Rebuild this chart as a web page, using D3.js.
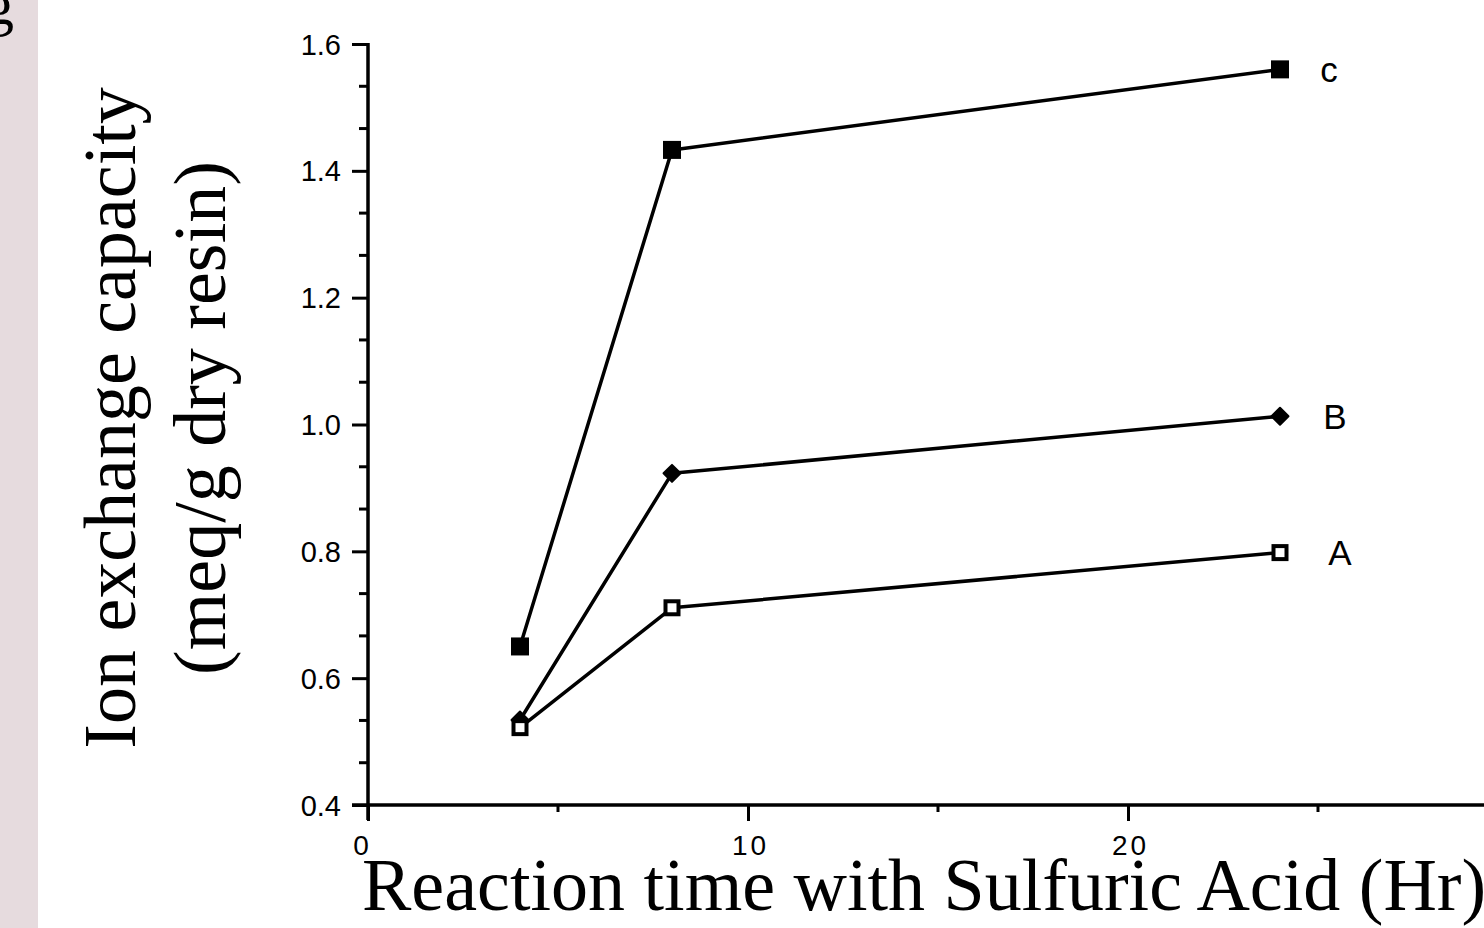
<!DOCTYPE html>
<html><head><meta charset="utf-8">
<script src="https://cdn.jsdelivr.net/npm/d3@7"></script>
<style>html,body{margin:0;padding:0;background:#fff;overflow:hidden}</style>
</head><body>
<svg id="c" width="1484" height="928"></svg>
<script>
const timesHr = [4, 8, 24];
const seriesC = [0.65, 1.433, 1.56];
const seriesB = [0.534, 0.923, 1.013];
const seriesA = [0.522, 0.711, 0.798];
const seriesNames = ["c", "B", "A"];
const yTicks = [0.4, 0.6, 0.8, 1.0, 1.2, 1.4, 1.6];
const xTicks = [0, 10, 20];
const xMinorTicks = [5, 15, 25];
const yTitle1 = "Ion exchange capacity";
const yTitle2 = "(meq/g dry resin)";
const xTitle = "Reaction time with Sulfuric Acid (Hr)";

const svg = d3.select("#c");
svg.append("rect").attr("x",0).attr("y",0).attr("width",38).attr("height",928).attr("fill","#e6dbde");
svg.append("text").attr("x",-16).attr("y",24).attr("font-family","Liberation Serif").attr("font-size",60).text("g");

const x = d3.scaleLinear().domain([0, 10]).range([368, 748]);
const y = d3.scaleLinear().domain([0.4, 1.6]).range([805, 44]);

const sans = "Liberation Sans, Arial, sans-serif";
const serif = "Liberation Serif, Times New Roman, serif";

// Y axis
const yMinor = d3.range(0, 19).map(i => 0.4 + i * 0.2 / 3).filter((v, i) => i % 3 !== 0);
const gy = svg.append("g").attr("transform", `translate(${x(0)},0)`)
  .call(d3.axisLeft(y).tickValues(yTicks).tickFormat(d3.format(".1f")).tickSize(16).tickPadding(11));
gy.select(".domain").remove();
gy.selectAll(".tick line").attr("stroke-width", 3);
gy.selectAll("text").attr("font-family", sans).attr("font-size", 29).attr("dy", "0.35em");
svg.append("g").selectAll("line").data(yMinor).join("line")
  .attr("x1", x(0) - 9).attr("x2", x(0)).attr("y1", d => y(d)).attr("y2", d => y(d))
  .attr("stroke", "#000").attr("stroke-width", 3);
svg.append("line").attr("x1", x(0)).attr("x2", x(0)).attr("y1", y(1.6) - 1).attr("y2", 820)
  .attr("stroke", "#000").attr("stroke-width", 3.5);

// X axis
const gx = svg.append("g").attr("transform", `translate(0,${y(0.4)})`)
  .call(d3.axisBottom(x).tickValues(xTicks).tickFormat(d3.format("d")).tickSize(16).tickPadding(14));
gx.select(".domain").remove();
gx.selectAll(".tick line").attr("stroke-width", 3);
gx.selectAll("text").attr("font-family", sans).attr("font-size", 28).attr("letter-spacing", 3)
  .attr("dx", d => d === 0 ? -6 : 2);
svg.append("g").selectAll("line").data(xMinorTicks).join("line")
  .attr("x1", d => x(d)).attr("x2", d => x(d)).attr("y1", y(0.4)).attr("y2", y(0.4) + 7)
  .attr("stroke", "#000").attr("stroke-width", 3);
svg.append("line").attr("x1", 352).attr("x2", 1484).attr("y1", y(0.4)).attr("y2", y(0.4))
  .attr("stroke", "#000").attr("stroke-width", 3.5);

// Lines
const line = d3.line().x((d, i) => x(timesHr[i])).y(d => y(d));
[seriesC, seriesB, seriesA].forEach(s => {
  svg.append("path").attr("d", line(s)).attr("fill", "none").attr("stroke", "#000")
    .attr("stroke-width", 3.5).attr("stroke-linejoin", "round");
});

// Markers
svg.append("g").selectAll("rect").data(seriesC).join("rect")
  .attr("x", (d, i) => x(timesHr[i]) - 9).attr("y", d => y(d) - 9)
  .attr("width", 18).attr("height", 18).attr("fill", "#000");
svg.append("g").selectAll("rect").data(seriesB).join("rect")
  .attr("transform", (d, i) => `translate(${x(timesHr[i])},${y(d)}) rotate(45)`)
  .attr("x", -6).attr("y", -6).attr("width", 12).attr("height", 12)
  .attr("fill", "#000").attr("stroke", "#000").attr("stroke-width", 2).attr("stroke-linejoin", "round");
svg.append("g").selectAll("rect").data(seriesA).join("rect")
  .attr("x", (d, i) => x(timesHr[i]) - 6.5).attr("y", d => y(d) - 6.5)
  .attr("width", 13).attr("height", 13).attr("fill", "#fff").attr("stroke", "#000").attr("stroke-width", 4);

// Series labels
const lastVals = [seriesC[2], seriesB[2], seriesA[2]];
const labelX = [1329, 1335, 1340];
svg.append("g").selectAll("text").data(seriesNames).join("text")
  .attr("x", (d, i) => labelX[i]).attr("y", (d, i) => y(lastVals[i])).attr("dy", "0.35em")
  .attr("text-anchor", "middle").attr("font-family", sans).attr("font-size", 35).text(d => d);

// Titles
svg.append("text").attr("transform", "translate(135,418) rotate(-90)").attr("text-anchor", "middle")
  .attr("font-family", serif).attr("font-size", 74).text(yTitle1);
svg.append("text").attr("transform", "translate(225,418) rotate(-90)").attr("text-anchor", "middle")
  .attr("font-family", serif).attr("font-size", 74).text(yTitle2);
svg.append("text").attr("x", 362).attr("y", 910)
  .attr("font-family", serif).attr("font-size", 74).text(xTitle);
</script>
</body></html>
